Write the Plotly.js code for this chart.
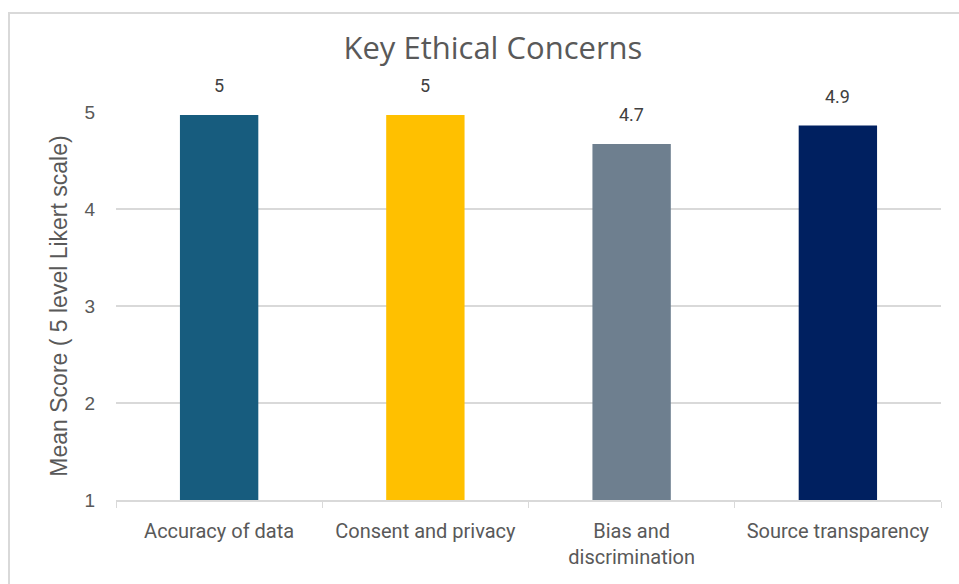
<!DOCTYPE html>
<html>
<head>
<meta charset="utf-8">
<script src="https://cdn.plot.ly/plotly-3.0.1.min.js"></script>
<style>html,body{margin:0;padding:0;background:#fff;}#chart{width:959px;height:584px;}</style>
</head>
<body>
<div id="chart"></div>
<script>
const categories = ["Accuracy of data", "Consent and privacy", "Bias and<br>discrimination", "Source transparency"];
const meanScores = [4.97, 4.97, 4.67, 4.86];
const barColors = ["#175C7E", "#FFC000", "#6E7F8F", "#002060"];
const yTickValues = [1, 2, 3, 4, 5];
const chartTitle = "Key Ethical Concerns";
const yTitle = "Mean Score ( 5 level Likert scale)";

const labels = meanScores.map(v => String(Math.round(v * 10) / 10));
const narrow = "Roboto, 'Liberation Sans', Arial, sans-serif";
const arial = "'Liberation Sans', Arial, sans-serif";

const W = 959, H = 584, L = 116, R = 18, T = 112, B = 84;
const pw = W - L - R, ph = H - T - B;

const annotations = categories.map((c, i) => ({
  x: c, y: meanScores[i], xref: "x", yref: "y",
  text: labels[i], showarrow: false, yanchor: "bottom", yshift: 17,
  font: {family: narrow, size: 18, color: "#404040"}
}));

Plotly.newPlot("chart", [{
  type: "bar",
  x: categories,
  y: meanScores.map(v => v - 1),
  base: 1,
  marker: {color: barColors},
  cliponaxis: false,
  hoverinfo: "skip"
}], {
  width: W, height: H,
  margin: {l: L, r: R, t: T, b: B},
  paper_bgcolor: "#fff", plot_bgcolor: "#fff",
  showlegend: false,
  bargap: 0.62,
  annotations: annotations,
  title: {text: chartTitle, x: 0.514, xanchor: "center", y: 0.918, yanchor: "middle",
          font: {family: "'Open Sans', Lato, sans-serif", size: 31, color: "#595959"}},
  xaxis: {
    showgrid: false, showline: true, linecolor: "#d9d9d9", linewidth: 1.5,
    ticks: "outside", tickson: "boundaries", ticklen: 6, tickcolor: "#d9d9d9",
    ticklabelstandoff: 12,
    tickfont: {family: narrow, size: 20, color: "#595959"},
    fixedrange: true
  },
  yaxis: {
    range: [1, 5], tickvals: yTickValues, ticktext: yTickValues.map(String),
    showgrid: true, gridcolor: "#d9d9d9", gridwidth: 1.3,
    zeroline: false, showline: false, ticks: "",
    ticklabelstandoff: 20,
    tickfont: {family: arial, size: 19, color: "#595959"},
    title: {text: yTitle, standoff: 10, font: {family: arial, size: 23, color: "#595959"}},
    fixedrange: true
  },
  shapes: [{
    type: "rect", xref: "paper", yref: "paper",
    x0: (9 - L) / pw, x1: (1000 - L) / pw,
    y0: (H - B - 620) / ph, y1: (H - B - 13) / ph,
    line: {color: "#d9d9d9", width: 2}, fillcolor: "rgba(0,0,0,0)"
  }]
}, {displayModeBar: false, staticPlot: true});
</script>
</body>
</html>
